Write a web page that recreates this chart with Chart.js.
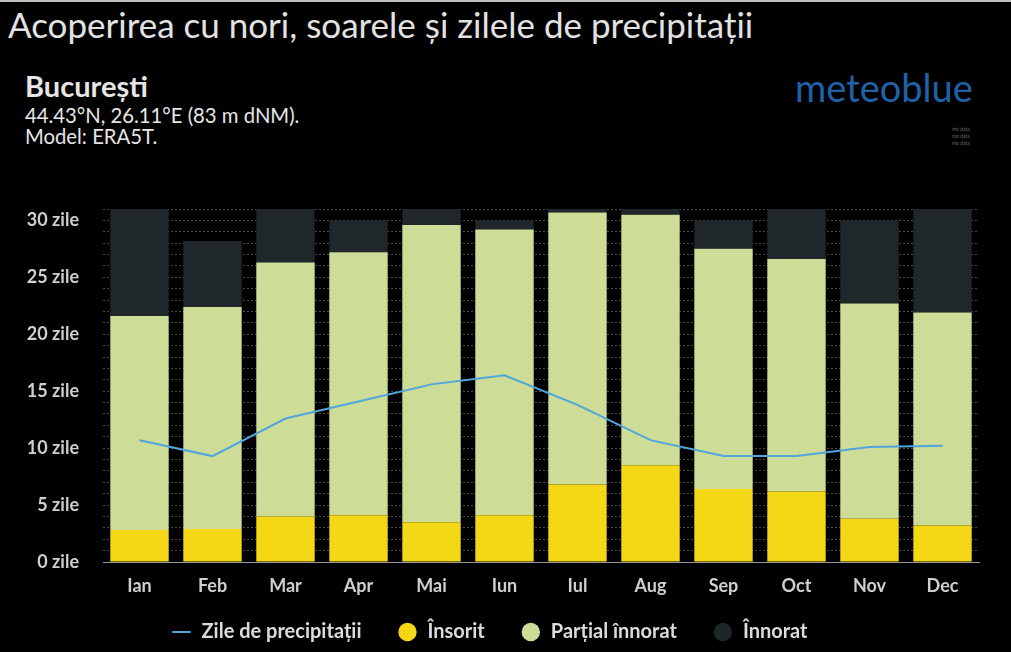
<!DOCTYPE html>
<html>
<head>
<meta charset="utf-8">
<script src="https://cdn.jsdelivr.net/npm/chart.js@4.4.1/dist/chart.umd.min.js"></script>
<style>
  html, body { margin: 0; padding: 0; background: #000; }
  body { width: 1011px; height: 652px; position: relative; overflow: hidden; font-family: Lato, "Noto Sans", sans-serif; }
  #topline { position: absolute; left: 0; top: 0; width: 1011px; height: 2px; background: #bdbdbd; }
  #title { position: absolute; left: 8px; top: 3px; font-size: 35px; color: #e2e2e2; white-space: nowrap; }
  #city { position: absolute; left: 25px; top: 68px; font-size: 29px; font-weight: bold; color: #e6e6e6; white-space: nowrap; }
  #coords { position: absolute; left: 25px; top: 103px; font-size: 20.3px; color: #e6e6e6; white-space: nowrap; }
  #model { position: absolute; left: 25px; top: 124px; font-size: 20.3px; color: #e6e6e6; white-space: nowrap; }
  #logo { position: absolute; left: 795px; top: 64px; font-size: 38px; color: #1f62a8; white-space: nowrap; }
  #mini { position: absolute; left: 952px; top: 126px; font-size: 5px; line-height: 7px; color: #666; white-space: nowrap; }
  #c { position: absolute; left: 0; top: 0; }
</style>
</head>
<body>
<div id="topline"></div>
<div id="title">Acoperirea cu nori, soarele și zilele de precipitații</div>
<div id="city">București</div>
<div id="coords">44.43°N, 26.11°E (83 m dNM).</div>
<div id="model">Model: ERA5T.</div>
<div id="logo">meteoblue</div>
<div id="mini">mb data<br>mb data<br>mb data</div>
<canvas id="c" width="1011" height="652"></canvas>
<script>
const months = ['Ian','Feb','Mar','Apr','Mai','Iun','Iul','Aug','Sep','Oct','Nov','Dec'];
const sunnyDays = [2.8, 2.9, 4.0, 4.1, 3.5, 4.1, 6.8, 8.5, 6.4, 6.2, 3.8, 3.2];
const partlyCloudyDays = [18.8, 19.5, 22.3, 23.1, 26.1, 25.1, 23.9, 22.0, 21.1, 20.4, 18.9, 18.7];
const overcastDays = [9.4, 5.8, 4.7, 2.8, 1.4, 0.8, 0.3, 0.5, 2.5, 4.4, 7.3, 9.1];
const precipitationDays = [10.7, 9.3, 12.6, 14.1, 15.6, 16.4, 13.8, 10.7, 9.3, 9.3, 10.1, 10.2];
const yUnit = ' zile';

Chart.defaults.font.family = 'Lato, "Noto Sans", sans-serif';

new Chart(document.getElementById('c'), {
  type: 'bar',
  data: {
    labels: months,
    datasets: [
      {
        type: 'line',
        label: 'Zile de precipitații',
        data: precipitationDays,
        borderColor: '#4ea6dc',
        backgroundColor: '#4ea6dc',
        borderWidth: 2,
        pointRadius: 0,
        pointStyle: 'line',
        tension: 0,
        order: 0
      },
      {
        label: 'Însorit',
        data: sunnyDays,
        backgroundColor: '#f4d816',
        stack: 's',
        order: 1
      },
      {
        label: 'Parțial înnorat',
        data: partlyCloudyDays,
        backgroundColor: '#cddc97',
        stack: 's',
        order: 2
      },
      {
        label: 'Înnorat',
        data: overcastDays,
        backgroundColor: '#1f272a',
        stack: 's',
        order: 3
      }
    ]
  },
  options: {
    responsive: false,
    animation: false,
    devicePixelRatio: 1,
    layout: { padding: { top: 209, left: 0, right: 32, bottom: 0 } },
    datasets: { bar: { barPercentage: 1, categoryPercentage: 0.8 } },
    plugins: {
      tooltip: { enabled: false },
      legend: {
        position: 'bottom',
        labels: {
          color: '#dcdcdc',
          font: { size: 20, weight: 'bold' },
          usePointStyle: true,
          boxHeight: 13,
          padding: 36
        }
      }
    },
    scales: {
      x: {
        stacked: true,
        grid: { display: false },
        border: { display: true, color: '#9a9a9a', width: 1 },
        ticks: { color: '#cfcfcf', font: { size: 18, weight: 'bold' }, padding: 5 },
        afterFit: (s) => { s.height = 24; s._computeLabelArea = () => undefined; }
      },
      y: {
        stacked: true,
        min: 0,
        max: 31,
        afterFit: (s) => { s.width = 103; },
        border: { display: false, dash: [2, 2] },
        grid: { color: '#4c4c4c', drawTicks: false, lineWidth: 1 },
        ticks: {
          stepSize: 1,
          autoSkip: false,
          padding: 24,
          color: '#cfcfcf',
          font: { size: 18, weight: 'bold' },
          callback: (v) => (v % 5 === 0 ? v + yUnit : '')
        }
      }
    }
  }
});
</script>
</body>
</html>
